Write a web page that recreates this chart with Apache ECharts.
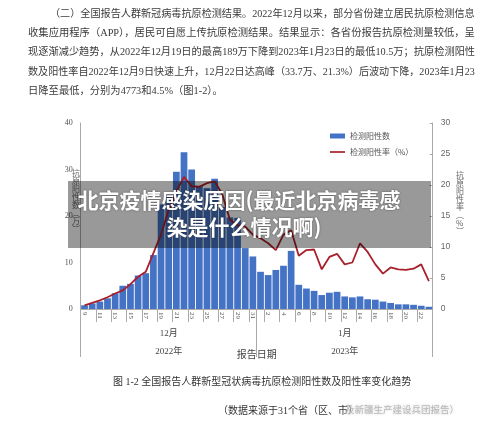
<!DOCTYPE html>
<html><head><meta charset="utf-8">
<script src="https://cdn.jsdelivr.net/npm/echarts@6/dist/echarts.min.js"></script>
<style>html,body{margin:0;padding:0;background:#fff}#c{width:500px;height:430px}</style>
</head><body><div id="c"></div>
<script>
const categories = ['9','10','11','12','13','14','15','16','17','18','19','20','21','22','23','24','25','26','27','28','29','30','31',
  '1','2','3','4','5','6','7','8','9','10','11','12','13','14','15','16','17','18','19','20','21','22','23'];
const positives = [0.8,1.2,1.6,2.3,3.4,5.0,5.4,7.2,7.7,11.6,22.5,24.5,29.5,33.7,30.0,26.5,26.0,28.0,22.0,19.7,19.6,13.1,11.3,
  8.0,7.3,8.4,9.3,12.5,5.2,4.4,3.9,3.0,3.5,3.7,2.7,2.5,2.7,2.1,2.0,1.6,1.3,1.0,1.0,0.9,0.7,0.48];
const rates = [0.6,1.0,1.4,1.9,2.5,3.0,4.0,5.2,6.0,9.0,12.0,16.0,19.0,21.3,19.8,19.7,20.3,20.6,18.5,14.4,13.5,13.3,12.0,
  11.4,10.6,9.5,12.0,12.7,8.6,9.5,9.6,6.4,8.4,8.9,7.2,7.5,10.6,9.2,7.2,5.7,6.7,6.4,6.3,6.5,7.2,4.5];
const months = ['12月','1月'];
const years = ['2022年','2023年'];
const seriesNames = ['检测阳性数','检测阳性率（%）'];
const leftAxisTitle = ['抗','原','阳','性','数','︵','万','︶'];
const rightAxisTitle = ['抗','原','阳','性','率','︵','%','︶'];
const xAxisTitle = '报告日期';
const paragraph = [
  '（二）全国报告人群新冠病毒抗原检测结果。2022年12月以来，部分省份建立居民抗原检测信息',
  '收集应用程序（APP），居民可自愿上传抗原检测结果。结果显示：各省份报告抗原检测量较低，呈',
  '现逐渐减少趋势，从2022年12月19日的最高189万下降到2023年1月23日的最低10.5万；抗原检测阳性',
  '数及阳性率自2022年12月9日快速上升，12月22日达高峰（33.7万、21.3%）后波动下降，2023年1月23',
  '日降至最低，分别为4773和4.5%（图1-2）。'
];
const caption = '图 1-2 全国报告人群新型冠状病毒抗原检测阳性数及阳性率变化趋势';
const sourceA = '（数据来源于31个省（区、市）';
const sourceB = '及新疆生产建设兵团报告）';
const overlayLines = ['北京疫情感染原因(最近北京病毒感','染是什么情况啊)'];

const SERIF = '"Liberation Serif","Noto Sans CJK SC",serif';
const SANS = '"Liberation Sans","Noto Sans CJK SC",sans-serif';
const CJK = '"Noto Sans CJK SC",sans-serif';

const mctx = document.createElement('canvas').getContext('2d');
function fitSize(text, width, base) {
  mctx.font = 'normal ' + base + 'px ' + SERIF;
  const w = mctx.measureText(text).width;
  return Math.min(base * width / w, 11.5);
}
const paraGraphics = paragraph.map((t, i) => {
  const x0 = i === 0 ? 50 : 28;
  const fs = i === 4 ? 10.3 : fitSize(t, 475 - x0, 10);
  return {type:'text', left:x0, top:[9,28.5,47.5,67,86][i], z:10,
    style:{text:t, fill:'#3a3a3a', font:'normal ' + fs.toFixed(2) + 'px ' + SERIF}};
});

const chart = echarts.init(document.getElementById('c'));
chart.setOption({
  backgroundColor:'#fff',
  animation:false,
  grid:{left:80.7, right:67.3, top:123, bottom:121, containLabel:false},
  legend:{orient:'vertical', left:325, top:126, itemWidth:15, itemHeight:5, itemGap:6,
    textStyle:{fontSize:8, color:'#555', fontFamily:CJK, lineHeight:10},
    data:[{name:seriesNames[0], icon:'rect'},{name:seriesNames[1], icon:'path://M0 0H30V3.4H0Z'}]},
  xAxis:[
    {type:'category', data:categories, position:'bottom',
      axisLine:{show:true, lineStyle:{color:'#aaa'}},
      axisTick:{show:true, interval:1, length:13, lineStyle:{color:'#aaa'}},
      axisLabel:{interval:1, rotate:-90, fontSize:7, fontFamily:SERIF, color:'#555', margin:3},
      name:xAxisTitle, nameLocation:'middle', nameGap:40,
      nameTextStyle:{fontSize:10, fontFamily:CJK, color:'#444'}},
    {type:'category', data:months, position:'bottom', offset:0,
      axisLine:{show:false}, axisTick:{show:true, length:48, lineStyle:{color:'#aaa'}},
      axisLabel:{fontSize:9, fontFamily:SERIF, color:'#444', margin:20}},
    {type:'category', data:years, position:'bottom', offset:0,
      axisLine:{show:false}, axisTick:{show:false},
      axisLabel:{fontSize:9, fontFamily:SERIF, color:'#444', margin:38}}
  ],
  yAxis:[
    {type:'value', min:0, max:40, interval:10, position:'left',
      axisLine:{show:true, lineStyle:{color:'#aaa'}}, axisTick:{show:false}, splitLine:{show:false},
      axisLabel:{fontSize:8, fontFamily:SERIF, color:'#555', margin:8}},
    {type:'value', min:0, max:30, interval:5, position:'right',
      axisLine:{show:true, lineStyle:{color:'#aaa'}}, axisTick:{show:true, inside:true, length:3, lineStyle:{color:'#aaa'}},
      splitLine:{show:false},
      axisLabel:{fontSize:8.5, fontFamily:SANS, color:'#666', margin:8}}
  ],
  series:[
    {name:seriesNames[0], type:'bar', data:positives, barCategoryGap:'12%', itemStyle:{color:'#4472C4'}},
    {name:seriesNames[1], type:'line', yAxisIndex:1, data:rates, symbol:'none',
      lineStyle:{color:'#A8202A', width:1.8}, itemStyle:{color:'#A8202A'}}
  ],
  graphic:[
    ...paraGraphics,
    {type:'text', left:72, top:169, z:10, style:{text:leftAxisTitle.join('\n'), fill:'#666', font:'8px ' + CJK, lineHeight:8}},
    {type:'text', left:456, top:171, z:10, style:{text:rightAxisTitle.join('\n'), fill:'#666', font:'8px ' + CJK, lineHeight:8}},
    {type:'text', left:113, top:377, z:10, style:{text:caption, fill:'#333', font:'10px ' + SERIF}},
    {type:'text', left:218, top:406, z:10, style:{text:sourceA, fill:'#333', font:'10px ' + SERIF}},
    {type:'text', left:345, top:406, z:10, style:{text:sourceB, fill:'#b8b8b8', font:'9.5px ' + SERIF, textShadowColor:'#ccc', textShadowBlur:3}},
    {type:'rect', left:68, top:181, z:20, shape:{width:363, height:67}, style:{fill:'rgba(0,0,0,0.4)'}},
    {type:'text', x:239, y:200, z:21, style:{text:overlayLines[0], fill:'#fff', font:'bold 21px ' + CJK, textAlign:'center', textVerticalAlign:'middle', textShadowColor:'rgba(0,0,0,0.5)', textShadowBlur:2}},
    {type:'text', x:244, y:227, z:21, style:{text:overlayLines[1], fill:'#fff', font:'bold 21px ' + CJK, textAlign:'center', textVerticalAlign:'middle', textShadowColor:'rgba(0,0,0,0.5)', textShadowBlur:2}}
  ]
});
</script></body></html>
